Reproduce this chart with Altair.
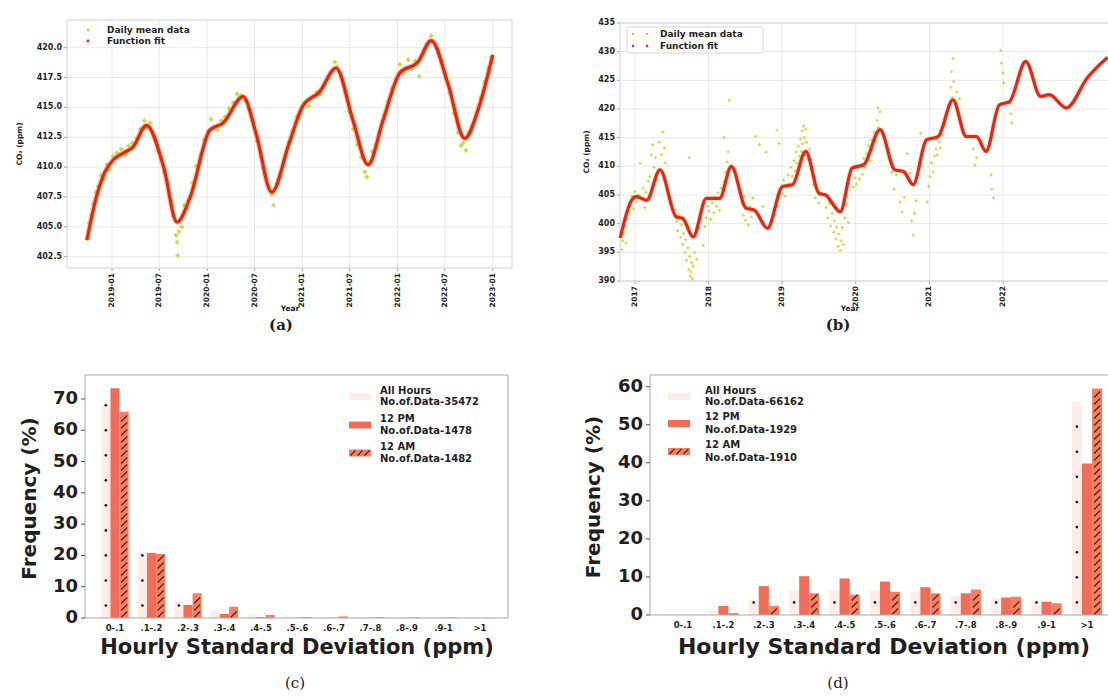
import altair as alt
import pandas as pd

SANS = "DejaVu Sans"
SERIF = "DejaVu Serif"
INK = "#1f1f1f"
GRID = "#e2e2e2"
TICK = "#8a8a8a"
YG = "#c4d52c"
RED = "#e3261b"
GLOW = "#f39a2c"
PINK = "#feece8"
SALMON_PM = "#f36c59"
SALMON_AM = "#f57f62"
HATCH = "#4e281c"

# ---------------- (a) daily mean CO2 and fitted curve ----------------
fit_a_dates = ["2018-09-27", "2018-11-02", "2018-12-05", "2019-01-05", "2019-02-15",
               "2019-03-23", "2019-05-13", "2019-07-18", "2019-09-07", "2019-10-28",
               "2020-01-11", "2020-03-02", "2020-05-18", "2020-07-07", "2020-09-05",
               "2020-11-11", "2021-01-02", "2021-03-08", "2021-05-10", "2021-07-14",
               "2021-09-10", "2021-11-06", "2022-01-10", "2022-03-20", "2022-05-10",
               "2022-07-13", "2022-09-15", "2022-11-10", "2023-01-01"]
fit_a_ppm = [403.9, 407.5, 409.6, 410.6, 411.2,
             411.7, 413.5, 410.0, 405.4, 407.5,
             413.1, 413.7, 415.9, 412.8, 407.9,
             412.0, 415.1, 416.3, 418.3, 413.9,
             410.2, 413.9, 417.9, 418.8, 420.6,
             417.0, 412.4, 415.1, 419.4]

daily_a = [
    ("2018-09-28", 404.0), ("2018-10-06", 405.3), ("2018-10-14", 406.0), ("2018-10-22", 406.9),
    ("2018-11-01", 407.9), ("2018-11-10", 408.4), ("2018-11-20", 409.3), ("2018-12-01", 409.0),
    ("2018-12-12", 410.2), ("2018-12-22", 409.8), ("2019-01-05", 410.9), ("2019-01-20", 411.2),
    ("2019-02-05", 411.5), ("2019-02-20", 411.0), ("2019-03-05", 411.8), ("2019-03-20", 412.0),
    ("2019-04-05", 412.4), ("2019-04-20", 413.2), ("2019-05-05", 413.9), ("2019-05-15", 413.3),
    ("2019-05-28", 413.7), ("2019-06-10", 412.6), ("2019-06-25", 411.4), ("2019-07-10", 410.7),
    ("2019-07-20", 409.6), ("2019-08-01", 408.8), ("2019-08-15", 407.2), ("2019-08-25", 405.9),
    ("2019-09-03", 404.3), ("2019-09-08", 403.7), ("2019-09-10", 402.6), ("2019-09-14", 404.6),
    ("2019-09-25", 405.0), ("2019-10-05", 406.8), ("2019-10-20", 407.2), ("2019-11-05", 408.7),
    ("2019-11-20", 410.1), ("2019-12-05", 411.0), ("2019-12-20", 412.3), ("2020-01-05", 413.0),
    ("2020-01-15", 414.0), ("2020-01-25", 413.3), ("2020-02-10", 413.1), ("2020-02-25", 413.9),
    ("2020-03-10", 414.2), ("2020-03-25", 414.9), ("2020-04-10", 415.4), ("2020-04-25", 416.1),
    ("2020-05-10", 416.0), ("2020-05-25", 415.6), ("2020-06-10", 414.9), ("2020-06-25", 413.8),
    ("2020-07-10", 412.2), ("2020-07-25", 411.0), ("2020-08-10", 409.4), ("2020-08-25", 408.4),
    ("2020-09-05", 407.7), ("2020-09-12", 406.8), ("2020-09-25", 408.6), ("2020-10-10", 409.5),
    ("2020-10-25", 410.9), ("2020-11-10", 412.1), ("2020-11-25", 413.0), ("2020-12-10", 414.2),
    ("2020-12-25", 414.5), ("2021-01-10", 415.4), ("2021-01-25", 415.1), ("2021-02-10", 415.9),
    ("2021-02-25", 416.3), ("2021-03-10", 416.1), ("2021-03-25", 416.8), ("2021-04-10", 417.5),
    ("2021-04-25", 418.0), ("2021-05-05", 418.8), ("2021-05-15", 418.4), ("2021-05-30", 417.6),
    ("2021-06-15", 416.3), ("2021-06-30", 414.6), ("2021-07-15", 413.2), ("2021-07-30", 411.9),
    ("2021-08-15", 410.8), ("2021-08-28", 409.6), ("2021-09-05", 409.2), ("2021-09-15", 410.4),
    ("2021-09-25", 411.3), ("2021-10-10", 411.9), ("2021-10-25", 413.0), ("2021-11-10", 414.4),
    ("2021-11-25", 415.5), ("2021-12-10", 416.6), ("2021-12-25", 417.3), ("2022-01-10", 418.6),
    ("2022-01-25", 417.9), ("2022-02-10", 419.0), ("2022-02-25", 418.2), ("2022-03-10", 418.9),
    ("2022-03-25", 417.6), ("2022-04-10", 419.5), ("2022-04-25", 420.3), ("2022-05-10", 421.0),
    ("2022-05-20", 420.4), ("2022-06-05", 419.8), ("2022-06-20", 418.9), ("2022-07-05", 417.4),
    ("2022-07-20", 416.2), ("2022-08-05", 414.5), ("2022-08-20", 412.9), ("2022-09-01", 411.8),
    ("2022-09-10", 412.0), ("2022-09-20", 411.4), ("2022-10-01", 412.9), ("2022-10-15", 413.5),
    ("2022-11-01", 414.6), ("2022-11-15", 415.8), ("2022-12-01", 417.1), ("2022-12-15", 418.2),
    ("2022-12-28", 419.2),
]
xticks_a = ["2019-01-01", "2019-07-01", "2020-01-01", "2020-07-01", "2021-01-01",
            "2021-07-01", "2022-01-01", "2022-07-01", "2023-01-01"]
xtick_labels_a = ["2019-01", "2019-07", "2020-01", "2020-07", "2021-01",
                  "2021-07", "2022-01", "2022-07", "2023-01"]
yticks_a = [402.5, 405.0, 407.5, 410.0, 412.5, 415.0, 417.5, 420.0]
ytick_labels_a = ["402.5", "405.0", "407.5", "410.0", "412.5", "415.0", "417.5", "420.0"]

# ---------------- (b) daily mean CO2 and fitted curve ----------------
fit_b_year = [2016.80, 2016.955, 2017.02, 2017.16, 2017.34, 2017.56, 2017.65, 2017.79,
              2017.97, 2018.15, 2018.31, 2018.51, 2018.62, 2018.80, 2019.005, 2019.14,
              2019.32, 2019.50, 2019.59, 2019.79, 2019.95, 2020.11, 2020.33, 2020.53,
              2020.65, 2020.78, 2020.96, 2021.12, 2021.32, 2021.50, 2021.64, 2021.77,
              2021.95, 2022.09, 2022.31, 2022.51, 2022.63, 2022.86, 2023.15, 2023.42]
fit_b_ppm = [397.5, 404.1, 404.7, 404.1, 409.4, 401.2, 400.9, 397.7,
             404.4, 404.4, 410.0, 402.7, 402.4, 399.2, 406.5, 406.8,
             412.6, 405.3, 405.0, 402.1, 409.7, 410.3, 416.4, 409.4,
             409.1, 406.8, 414.6, 415.2, 421.6, 415.2, 415.2, 412.6,
             420.7, 421.3, 428.3, 422.2, 422.5, 420.2, 425.5, 429.0]

daily_b = [
    (2016.82, 395.5), (2016.83, 397.0), (2016.85, 398.4), (2016.87, 399.5), (2016.88, 396.6),
    (2016.90, 400.8), (2016.92, 402.0), (2016.94, 403.2), (2016.96, 404.8), (2016.98, 402.6),
    (2017.00, 405.6), (2017.03, 403.9), (2017.05, 405.0), (2017.07, 410.5), (2017.09, 404.3),
    (2017.11, 406.2), (2017.13, 402.8), (2017.15, 405.5), (2017.18, 407.4), (2017.20, 408.2),
    (2017.22, 412.0), (2017.24, 413.8), (2017.26, 409.8), (2017.28, 411.5), (2017.30, 407.6),
    (2017.33, 414.2), (2017.36, 412.0), (2017.38, 416.0), (2017.40, 413.2), (2017.41, 410.6),
    (2017.55, 402.5), (2017.57, 400.4), (2017.58, 398.8), (2017.60, 401.5), (2017.62, 397.6),
    (2017.63, 399.8), (2017.65, 396.4), (2017.66, 398.3), (2017.68, 395.0), (2017.69, 397.2),
    (2017.70, 393.6), (2017.72, 395.8), (2017.73, 392.0), (2017.74, 394.3), (2017.75, 390.8),
    (2017.76, 391.6), (2017.77, 393.2), (2017.78, 390.4), (2017.79, 392.6), (2017.81, 395.0),
    (2017.83, 397.8), (2017.84, 393.8), (2017.86, 399.2), (2017.74, 411.5), (2017.93, 396.2),
    (2017.95, 399.5), (2017.97, 401.0), (2017.99, 403.0), (2018.01, 402.2), (2018.03, 400.8),
    (2018.05, 403.6), (2018.07, 401.9), (2018.09, 404.6), (2018.11, 403.0), (2018.13, 405.4),
    (2018.15, 402.3), (2018.17, 406.2), (2018.19, 404.8), (2018.21, 407.3), (2018.23, 409.0),
    (2018.25, 410.8), (2018.27, 412.5), (2018.29, 409.6), (2018.28, 421.5), (2018.21, 415.0),
    (2018.45, 403.6), (2018.47, 401.5), (2018.49, 404.8), (2018.50, 400.6), (2018.52, 402.9),
    (2018.54, 399.8), (2018.56, 403.0), (2018.58, 401.2), (2018.60, 404.5), (2018.64, 415.2),
    (2018.69, 413.8), (2018.78, 412.5), (2018.74, 403.0), (2018.93, 416.3), (2018.96, 414.0),
    (2019.00, 405.2), (2019.02, 407.6), (2019.04, 404.8), (2019.06, 406.4), (2019.08, 408.5),
    (2019.10, 407.0), (2019.12, 409.8), (2019.14, 408.3), (2019.16, 411.0), (2019.18, 409.2),
    (2019.19, 412.5), (2019.20, 410.6), (2019.22, 413.5), (2019.23, 411.8), (2019.25, 414.8),
    (2019.26, 412.6), (2019.27, 416.2), (2019.28, 413.9), (2019.29, 417.0), (2019.30, 415.0),
    (2019.31, 412.0), (2019.32, 416.5), (2019.33, 414.2), (2019.35, 411.2), (2019.37, 413.0),
    (2019.42, 406.8), (2019.45, 404.5), (2019.48, 406.0), (2019.50, 403.6), (2019.60, 402.8),
    (2019.62, 401.0), (2019.64, 403.5), (2019.66, 399.6), (2019.68, 401.8), (2019.70, 398.5),
    (2019.71, 400.5), (2019.73, 397.4), (2019.74, 399.4), (2019.76, 396.0), (2019.77, 398.2),
    (2019.79, 395.3), (2019.80, 397.0), (2019.82, 399.3), (2019.83, 396.4), (2019.85, 401.0),
    (2019.87, 403.4), (2019.90, 400.2), (2019.97, 406.4), (2019.99, 408.0), (2020.01, 406.9),
    (2020.03, 409.5), (2020.05, 407.8), (2020.07, 410.2), (2020.09, 408.6), (2020.11, 411.4),
    (2020.13, 409.8), (2020.15, 412.2), (2020.17, 413.5), (2020.19, 411.0), (2020.21, 414.6),
    (2020.23, 412.8), (2020.25, 416.0), (2020.27, 414.5), (2020.29, 418.0), (2020.31, 416.8),
    (2020.33, 419.5), (2020.30, 420.2), (2020.46, 411.6), (2020.49, 409.0), (2020.52, 406.0),
    (2020.55, 408.5), (2020.60, 403.8), (2020.63, 402.0), (2020.66, 404.6), (2020.70, 412.2),
    (2020.74, 408.8), (2020.76, 400.5), (2020.78, 398.0), (2020.80, 401.8), (2020.82, 404.0),
    (2020.86, 409.5), (2020.88, 415.8), (2020.97, 403.8), (2020.99, 406.5), (2021.01, 408.2),
    (2021.03, 410.6), (2021.05, 409.0), (2021.07, 411.8), (2021.09, 413.0), (2021.11, 412.0),
    (2021.13, 414.2), (2021.15, 413.2), (2021.17, 415.5), (2021.19, 417.0), (2021.27, 420.5),
    (2021.29, 423.8), (2021.30, 426.5), (2021.31, 422.0), (2021.32, 428.8), (2021.33, 424.8),
    (2021.35, 421.5), (2021.37, 423.0), (2021.39, 419.0), (2021.41, 421.8), (2021.43, 417.5),
    (2021.60, 413.0), (2021.62, 410.2), (2021.64, 411.5), (2021.84, 408.5), (2021.85, 406.0),
    (2021.87, 404.5), (2021.97, 430.2), (2021.98, 428.0), (2022.00, 426.3), (2022.01, 424.6),
    (2022.10, 421.0), (2022.11, 419.2), (2022.12, 417.6),
]
xticks_b = [2017, 2018, 2019, 2020, 2021, 2022]
xtick_labels_b = ["2017", "2018", "2019", "2020", "2021", "2022"]
yticks_b = [390, 395, 400, 405, 410, 415, 420, 425, 430, 435]
ytick_labels_b = ["390", "395", "400", "405", "410", "415", "420", "425", "430", "435"]

# ---------------- (c), (d) hourly standard deviation histograms ----------------
sd_bins = ["0-.1", ".1-.2", ".2-.3", ".3-.4", ".4-.5", ".5-.6",
           ".6-.7", ".7-.8", ".8-.9", ".9-1", ">1"]
series_names = ["All Hours", "12 PM", "12 AM"]

c_all_hours = [68.0, 21.0, 5.5, 2.5, 1.0, 0.5, 0.4, 0.3, 0.3, 0.3, 0.2]
c_12pm = [73.4, 20.8, 4.2, 1.3, 0.3, 0.1, 0.1, 0.1, 0.1, 0.1, 0.0]
c_12am = [65.9, 20.5, 7.9, 3.6, 1.0, 0.3, 0.5, 0.3, 0.2, 0.2, 0.1]
c_counts = ["No.of.Data-35472", "No.of.Data-1478", "No.of.Data-1482"]
c_yticks = [0, 10, 20, 30, 40, 50, 60, 70]

d_all_hours = [0.1, 1.0, 4.0, 6.5, 6.5, 6.5, 6.0, 5.0, 4.5, 3.5, 56.0]
d_12pm = [0.0, 2.4, 7.6, 10.2, 9.6, 8.8, 7.3, 5.7, 4.6, 3.5, 39.8]
d_12am = [0.0, 0.5, 2.4, 5.7, 5.3, 6.1, 5.7, 6.7, 4.8, 3.1, 59.5]
d_counts = ["No.of.Data-66162", "No.of.Data-1929", "No.of.Data-1910"]
d_yticks = [0, 10, 20, 30, 40, 50, 60]

ONE = pd.DataFrame({"k": [0]})
HATCH_PATH = "M -1 1 L 1 -1"


def dec_year(s):
    t = pd.Timestamp(s)
    return t.year + (t.dayofyear - 1) / (366 if t.is_leap_year else 365)


def lin(domain, rng):
    return alt.Scale(domain=domain, range=rng, nice=False, zero=False)


def T(s, x, y, size=8.0, weight="bold", align="left", font=SANS, color=INK, angle=0):
    kw = dict(text=s, font=font, fontSize=size, fontWeight=weight, align=align,
              baseline="middle", color=color)
    if angle:
        kw["angle"] = angle
    return alt.Chart(ONE).mark_text(**kw).encode(x=alt.value(x), y=alt.value(y))


def box(x1, y1, x2, y2, fill=None, stroke=None, sw=1.0, radius=0):
    kw = {"fill": fill} if fill else {"fillOpacity": 0}
    if stroke:
        kw.update(stroke=stroke, strokeWidth=sw)
    if radius:
        kw["cornerRadius"] = radius
    return alt.Chart(ONE).mark_rect(**kw).encode(
        x=alt.value(x1), x2=alt.value(x2), y=alt.value(y1), y2=alt.value(y2))


def glyph(x, y, color, size=10, shape="circle", filled=True, sw=1.0):
    return alt.Chart(ONE).mark_point(shape=shape, filled=filled, size=size, color=color,
                                     opacity=1, strokeWidth=sw).encode(
        x=alt.value(x), y=alt.value(y))


def ts_axes(xs, ys, xt, xlab, yt, ylab, left, right, top, bottom):
    gx = pd.DataFrame({"v": xt, "lab": xlab})
    gy = pd.DataFrame({"v": yt, "lab": ylab})
    X = alt.X("v:Q", scale=xs, axis=None)
    Y = alt.Y("v:Q", scale=ys, axis=None)
    return [
        alt.Chart(gx).mark_rule(color=GRID, strokeWidth=0.8).encode(
            x=X, y=alt.value(top), y2=alt.value(bottom)),
        alt.Chart(gy).mark_rule(color=GRID, strokeWidth=0.8).encode(
            y=Y, x=alt.value(left), x2=alt.value(right)),
        alt.Chart(gx).mark_rule(color=TICK, strokeWidth=0.8).encode(
            x=X, y=alt.value(bottom), y2=alt.value(bottom + 3)),
        alt.Chart(gy).mark_rule(color=TICK, strokeWidth=0.8).encode(
            y=Y, x=alt.value(left - 3), x2=alt.value(left)),
        alt.Chart(gx).mark_text(angle=270, align="right", baseline="middle", font=SANS,
                                fontSize=7.5, fontWeight="bold", color=INK).encode(
            x=X, y=alt.value(bottom + 5), text="lab:N"),
        alt.Chart(gy).mark_text(align="right", baseline="middle", font=SANS, fontSize=8,
                                fontWeight="bold", color=INK).encode(
            y=Y, x=alt.value(left - 5), text="lab:N"),
    ]


layers = []

# ---------------- panel (a) ----------------
AL, AR, AT, AB = 67, 512, 20, 268
xsA = lin([2018.527, 2023.202], [AL, AR])
ysA = lin([401.55, 422.32], [AB, AT])
df_fit_a = pd.DataFrame({"t": [dec_year(d) for d in fit_a_dates], "ppm": fit_a_ppm})
df_day_a = pd.DataFrame({"t": [dec_year(d) for d, _ in daily_a], "ppm": [v for _, v in daily_a]})
XA = alt.X("t:Q", scale=xsA, axis=None)
YA = alt.Y("ppm:Q", scale=ysA, axis=None)

layers += ts_axes(xsA, ysA, [dec_year(d) for d in xticks_a], xtick_labels_a,
                  yticks_a, ytick_labels_a, AL, AR, AT, AB)
layers += [
    box(AL, AT, AR, AB, stroke="#cfcfcf"),
    alt.Chart(df_day_a).mark_point(shape="cross", filled=True, size=20, color=YG, opacity=0.9)
    .encode(x=XA, y=YA),
    alt.Chart(df_fit_a).mark_line(color=GLOW, strokeWidth=5.5, opacity=0.5, interpolate="monotone")
    .encode(x=XA, y=YA),
    alt.Chart(df_fit_a).mark_line(color=RED, strokeWidth=3.2, interpolate="monotone")
    .encode(x=XA, y=YA),
    glyph(88, 30, YG, size=8),
    glyph(88, 41, RED, size=8),
    T("Daily mean data", 107, 30, size=9),
    T("Function fit", 107, 41, size=9),
    T("CO₂ (ppm)", 20, 144, size=7.5, align="center", angle=270),
    T("Year", 290, 309, size=7.5, align="center"),
    T("(a)", 281, 325, size=15, font=SERIF, align="center"),
]

# ---------------- panel (b) ----------------
BL, BR, BT, BB = 620, 1130, 23, 281
xsB = lin([2016.797, 2016.797 + (BR - BL) / 73.6], [BL, BR])
ysB = lin([390, 435], [BB, BT])
df_fit_b = pd.DataFrame({"t": fit_b_year, "ppm": fit_b_ppm})
df_day_b = pd.DataFrame({"t": [t for t, _ in daily_b], "ppm": [v for _, v in daily_b]})
XB = alt.X("t:Q", scale=xsB, axis=None)
YB = alt.Y("ppm:Q", scale=ysB, axis=None)

layers += ts_axes(xsB, ysB, xticks_b, xtick_labels_b, yticks_b, ytick_labels_b,
                  BL, BR, BT, BB)
layers += [
    box(BL, BT, BR, BB, stroke="#cfcfcf"),
    alt.Chart(df_day_b).mark_point(shape="cross", filled=True, size=10, color=YG, opacity=0.85)
    .encode(x=XB, y=YB),
    alt.Chart(df_fit_b).mark_line(color=GLOW, strokeWidth=5.0, opacity=0.3, interpolate="monotone")
    .encode(x=XB, y=YB),
    alt.Chart(df_fit_b).mark_line(color=RED, strokeWidth=3.2, interpolate="monotone")
    .encode(x=XB, y=YB),
    box(627, 27, 763, 53, fill="white", stroke="#d4d4d4", radius=3),
    glyph(633, 34, YG, size=7), glyph(647, 34, YG, size=7),
    glyph(633, 46, RED, size=7), glyph(647, 46, RED, size=7),
    T("Daily mean data", 660, 34, size=9),
    T("Function fit", 660, 46, size=9),
    T("CO₂ (ppm)", 587, 152, size=7.5, align="center", angle=270),
    T("Year", 850, 309, size=7.5, align="center"),
    T("(b)", 838, 325, size=15, font=SERIF, align="center"),
]


# ---------------- bar panels ----------------
def bar_panel(vals_all, vals_pm, vals_am, left, right, top, bottom, ytop, x_first, x_step,
              yticks, counts, leg_sx, leg_tx, leg_rows, title_x, title_y, title_size,
              ytitle_x, label_y, caption, cap_xy, dot_step):
    n = len(sd_bins)
    lo = -(x_first - left) / x_step
    hi = lo + (right - left) / x_step
    xs = lin([lo, hi], [left, right])
    ys = alt.Scale(domain=[0, ytop], range=[bottom, top], nice=False, zero=True)
    px_per_unit = (bottom - top) / ytop
    hatch_step = 7.0 / px_per_unit

    offsets = {"All Hours": -0.25, "12 PM": 0.0, "12 AM": 0.25}
    width = 0.25
    rows = []
    for s, vals in zip(series_names, [vals_all, vals_pm, vals_am]):
        for i, v in enumerate(vals):
            c = i + offsets[s]
            rows.append({"series": s, "x1": c - width / 2, "x2": c + width / 2,
                         "c": c, "pct": v, "base": 0.0})
    df = pd.DataFrame(rows)

    hatch_rows, dot_rows = [], []
    for i, v in enumerate(vals_am):
        k = 0
        while (k + 0.5) * hatch_step <= v - 0.25 * hatch_step:
            hatch_rows.append({"c": i + offsets["12 AM"], "pct": (k + 0.5) * hatch_step})
            k += 1
    for i, v in enumerate(vals_all):
        k = 0
        while (k + 0.5) * dot_step <= v:
            dot_rows.append({"c": i + offsets["All Hours"], "pct": (k + 0.5) * dot_step})
            k += 1

    Y = alt.Y("pct:Q", scale=ys, axis=None)
    C = alt.X("c:Q", scale=xs, axis=None)
    out = [
        alt.Chart(df).mark_bar().encode(
            x=alt.X("x1:Q", scale=xs, axis=None), x2="x2:Q", y=Y, y2="base:Q",
            color=alt.Color("series:N", scale=alt.Scale(domain=series_names,
                                                        range=[PINK, SALMON_PM, SALMON_AM]),
                            legend=None)),
        alt.Chart(pd.DataFrame(hatch_rows)).mark_point(
            shape=HATCH_PATH, size=36, filled=False, color=HATCH, strokeWidth=1.3, opacity=1
        ).encode(x=C, y=Y),
        alt.Chart(pd.DataFrame(dot_rows)).mark_circle(size=7, color="black", opacity=0.9)
        .encode(x=C, y=Y),
        box(left, top, right, bottom, stroke="#a8a8a8"),
    ]

    gy = pd.DataFrame({"v": yticks, "lab": [str(t) for t in yticks]})
    GY = alt.Y("v:Q", scale=ys, axis=None)
    out += [
        alt.Chart(gy).mark_rule(color="#555555", strokeWidth=1).encode(
            y=GY, x=alt.value(left - 4), x2=alt.value(left)),
        alt.Chart(gy).mark_text(align="right", baseline="middle", font=SANS, fontSize=18,
                                fontWeight="bold", color=INK).encode(
            y=GY, x=alt.value(left - 7), text="lab:N"),
    ]
    gx = pd.DataFrame({"v": list(range(n)), "lab": sd_bins})
    out.append(alt.Chart(gx).mark_text(align="center", baseline="middle", font=SANS,
                                       fontSize=8.5, fontWeight="bold", color=INK).encode(
        x=alt.X("v:Q", scale=xs, axis=None), y=alt.value(label_y), text="lab:N"))
    out.append(T("Hourly Standard Deviation (ppm)", title_x, title_y, size=title_size,
                 align="center"))
    out.append(T("Frequency (%)", ytitle_x, (top + bottom) / 2 + 2, size=20, align="center",
                 angle=270))

    colors = [PINK, SALMON_PM, SALMON_AM]
    for i, name in enumerate(series_names):
        y1, y2 = leg_rows[i]
        yc = (y1 + y2) / 2
        out.append(box(leg_sx, yc - 3.5, leg_sx + 22, yc + 3.5, fill=colors[i]))
        if name == "12 AM":
            for dx in (4, 11, 18):
                out.append(glyph(leg_sx + dx, yc, HATCH, size=25, shape=HATCH_PATH,
                                 filled=False, sw=1.2))
        out.append(T(name, leg_tx, y1, size=10))
        out.append(T(counts[i], leg_tx, y2, size=10))
    out.append(T(caption, cap_xy[0], cap_xy[1], size=15, font=SERIF, weight="normal",
                 align="center"))
    return out


layers += bar_panel(c_all_hours, c_12pm, c_12am, 85, 508, 375, 618, 77.67, 115, 36.5,
                    c_yticks, c_counts, 349, 380, [(391, 402), (419, 431), (447, 459)],
                    297, 648, 21, 30, 628, "(c)", (295, 683), 8.0)
layers += bar_panel(d_all_hours, d_12pm, d_12am, 650, 1130, 375, 615, 63.07, 683, 40.4,
                    d_yticks, d_counts, 668, 705, [(391, 402), (417, 430), (445, 458)],
                    884, 647, 22, 594, 625, "(d)", (838, 683), 6.6)

chart = alt.layer(*layers).resolve_scale(
    x="independent", y="independent", color="independent"
).properties(
    width=1108, height=698, padding=0, autosize=alt.AutoSizeParams(type="none")
).configure(font=SANS).configure_view(stroke=None)

chart.save("out.html", embed_options={"renderer": "svg", "actions": False})
